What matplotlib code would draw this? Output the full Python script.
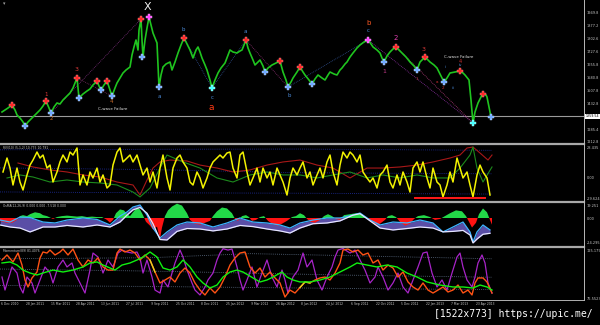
"""Gold daily chart with Elliott-wave marks and three indicator panes (MT4 style)."""

import matplotlib

matplotlib.use("Agg")
import matplotlib.pyplot as plt  # noqa: E402
from matplotlib.lines import Line2D  # noqa: E402

# ---- price pane -------------------------------------------------------------
price_bar = [2, 5, 8, 12, 15, 17, 20, 23, 25, 28, 31, 33, 36, 40, 43, 46, 49, 51, 54, 57,
             60, 63, 66, 70, 73, 77, 79, 83, 87, 90, 93, 97, 99, 101, 104, 107, 110, 112, 115,
             117, 120, 123, 126, 130, 132, 134, 136, 138, 139, 141, 142, 143, 145, 147, 149,
             151, 153, 155, 157, 158, 159, 161, 163, 166, 170, 172, 175, 178, 181, 184, 187,
             190, 193, 196, 198, 200, 202, 205, 207, 210, 212, 215, 218, 221, 225, 228, 230,
             233, 237, 240, 242, 246, 248, 250, 253, 255, 258, 260, 263, 265, 268, 272, 276,
             280, 283, 286, 288, 291, 293, 297, 300, 303, 305, 309, 312, 315, 318, 322, 325,
             328, 330, 334, 337, 340, 342, 345, 347, 350, 353, 357, 360, 364, 368, 371, 373,
             377, 380, 382, 384, 387, 390, 393, 396, 399, 402, 406, 410, 414, 417, 420, 423,
             425, 428, 430, 434, 437, 441, 444, 447, 450, 455, 460, 463, 465, 469, 471, 473,
             475, 478, 481, 483, 486, 487, 489, 491]
close = [1383.7, 1395.1, 1406.5, 1423.6, 1395.1, 1366.6, 1349.5, 1326.7, 1303.9, 1326.7,
         1343.8, 1355.2, 1372.3, 1395.1, 1417.9, 1446.4, 1406.5, 1378.0, 1412.2, 1435.0,
         1429.3, 1452.1, 1469.2, 1492.0, 1520.5, 1577.5, 1463.5, 1486.3, 1503.4, 1514.8,
         1537.6, 1560.4, 1531.9, 1509.1, 1537.6, 1560.4, 1509.1, 1474.9, 1520.5, 1549.0,
         1577.5, 1606.0, 1623.1, 1640.2, 1708.6, 1754.3, 1794.2, 1737.2, 1851.2, 1913.9,
         1794.2, 1697.2, 1794.2, 1862.6, 1925.3, 1879.7, 1834.1, 1805.6, 1777.1, 1651.6,
         1526.2, 1594.6, 1640.2, 1657.3, 1668.7, 1623.1, 1668.7, 1720.0, 1765.7, 1805.6,
         1771.4, 1737.2, 1691.5, 1737.2, 1754.3, 1725.7, 1691.5, 1651.6, 1623.1, 1566.1,
         1520.5, 1566.1, 1606.0, 1634.5, 1663.0, 1708.6, 1737.2, 1725.7, 1720.0, 1731.4,
         1737.2, 1794.2, 1748.6, 1720.0, 1680.1, 1651.6, 1668.7, 1680.1, 1645.9, 1611.7,
         1634.5, 1651.6, 1663.0, 1674.4, 1611.7, 1566.1, 1526.2, 1554.7, 1577.5, 1611.7,
         1640.2, 1611.7, 1594.6, 1566.1, 1543.3, 1571.8, 1594.6, 1577.5, 1566.1, 1594.6,
         1611.7, 1600.3, 1594.6, 1623.1, 1634.5, 1657.3, 1668.7, 1697.2, 1720.0, 1748.6,
         1765.7, 1782.8, 1794.2, 1771.4, 1754.3, 1737.2, 1720.0, 1691.5, 1668.7, 1702.9,
         1725.7, 1742.8, 1754.3, 1737.2, 1720.0, 1697.2, 1668.7, 1645.9, 1623.1, 1668.7,
         1685.8, 1697.2, 1680.1, 1668.7, 1651.6, 1634.5, 1588.9, 1554.7, 1577.5, 1606.0,
         1611.7, 1617.4, 1606.0, 1594.6, 1566.1, 1452.1, 1321.0, 1383.7, 1435.0, 1469.2,
         1486.3, 1480.6, 1469.2, 1412.2, 1355.2]
last_price = 1359.54
price_ticks = [1949.8, 1877.2, 1802.6, 1727.6, 1655.8, 1580.8, 1507.8, 1432.8, 1285.4, 1212.8]

# wave pivots: highs (red), lows (blue), tops (magenta), terminal lows (cyan)
high_bar = [12, 46, 77, 97, 107, 141, 184, 246, 280, 300, 396, 425, 460, 483]
high_px = [1423.6, 1446.4, 1577.5, 1560.4, 1560.4, 1913.9, 1805.6, 1794.2, 1674.4, 1640.2,
           1754.3, 1697.2, 1617.4, 1486.3]
low_bar = [25, 51, 79, 101, 112, 142, 159, 265, 288, 312, 384, 417, 444, 491]
low_px = [1303.9, 1378.0, 1463.5, 1509.1, 1474.9, 1697.2, 1526.2, 1611.7, 1526.2, 1543.3,
          1668.7, 1623.1, 1554.7, 1355.2]
top_bar = [149, 368]
top_px = [1925.3, 1794.2]
term_bar = [212, 473]
term_px = [1520.5, 1321.0]

# dotted wave connectors
link_bar = [(51, 141), (77, 112), (184, 212), (212, 246), (246, 288), (288, 368), (368, 473),
            (396, 473)]
link_px = [(1378.0, 1913.9), (1577.5, 1474.9), (1805.6, 1520.5), (1520.5, 1794.2),
           (1794.2, 1526.2), (1526.2, 1794.2), (1794.2, 1321.0), (1754.3, 1321.0)]
link_color = ["#7a2f7a", "#7a2f60", "#2f4f8f", "#2f4f8f", "#8a3070", "#2f4f8f", "#8a2fa0",
              "#b03a78"]

wave_text = ["X", "1", "2", "3", "4", "a", "C-wave Failure", "b", "c", "a", "a", "b", "b",
             "c", "1", "2", "3", "1", "a", "2", "ii", "iii", "4", "iv", "C-wave Failure"]
wave_bar = [147, 46, 51, 77, 111, 159, 113, 183, 212, 211, 245, 289, 369, 368, 384, 396, 424,
            417, 437, 443, 446, 453, 460, 460, 459]
wave_pos = [1982.3, 1480.6, 1343.8, 1628.8, 1440.7, 1469.2, 1400.8, 1851.2, 1463.5, 1406.5,
            1839.8, 1474.9, 1891.1, 1845.5, 1617.4, 1805.6, 1737.2, 1571.8, 1554.7, 1520.5,
            1640.2, 1520.5, 1674.4, 1651.6, 1697.2]
wave_color = ["#f0f0f0", "#e03a3a", "#c86a2a", "#e03a3a", "#c86a2a", "#4a8ad8", "#e8e8e8",
              "#4a8ad8", "#4a8ad8", "#ff3a14", "#4a8ad8", "#4a8ad8", "#ff5a24", "#4a8ad8",
              "#c03a8a", "#e040b0", "#e03a3a", "#b83a3a", "#d03030", "#d03030", "#4a8ad8",
              "#4a8ad8", "#d03030", "#4a8ad8", "#e8e8e8"]
wave_size = [8, 4, 4, 4.5, 4, 4, 2.9, 4, 4, 6.5, 4, 4, 5, 4, 4.5, 5, 4.5, 3, 3, 3, 2.8, 2.8,
             3.5, 2.8, 2.9]

# ---- RVI pane ---------------------------------------------------------------
rvi_bar = [3, 7, 10, 13, 17, 20, 23, 27, 30, 33, 37, 40, 43, 47, 50, 53, 57, 60, 63, 67, 70,
           73, 77, 80, 83, 87, 90, 93, 97, 100, 103, 107, 110, 113, 117, 120, 123, 127, 130,
           133, 137, 140, 143, 147, 150, 153, 157, 160, 163, 167, 170, 173, 177, 180, 183, 187,
           190, 193, 197, 200, 203, 207, 210, 213, 217, 220, 223, 227, 230, 233, 237, 240, 243,
           247, 250, 253, 257, 260, 263, 267, 270, 273, 277, 280, 283, 287, 290, 293, 297, 300,
           303, 307, 310, 313, 317, 320, 323, 327, 330, 333, 337, 340, 343, 347, 350, 353, 357,
           360, 363, 367, 370, 373, 377, 380, 383, 387, 390, 393, 397, 400, 403, 407, 410, 413,
           417, 420, 423, 427, 430, 433, 437, 440, 443, 447, 450, 453, 457, 460, 463, 467, 470,
           473, 477, 480, 483, 487, 490]
rvi = [4.7, 17.8, 8.4, -7.5, 8.4, -4.7, -12.2, 1.9, 11.2, 15.9, 23.4, 17.8, 20.6, 8.4, 11.2,
       -4.7, 4.7, 14.1, 20.6, 14.1, 23.4, 20.6, 27.2, -7.5, 1.9, -7.5, 4.7, -0.9, 8.4, -4.7,
       1.9, -10.3, -7.5, 11.2, 23.4, 27.2, 14.1, 17.8, 20.6, 14.1, 20.6, 11.2, 1.9, 8.4, -4.7,
       4.7, -10.3, 8.4, 20.6, -0.9, -12.2, 8.4, 17.8, 20.6, 14.1, 8.4, -4.7, -7.5, 4.7, -0.9,
       -10.3, -0.9, 8.4, 14.1, 17.8, 20.6, 17.8, 22.5, 23.4, 8.4, -0.9, 20.6, 23.4, 4.7, -7.5,
       -0.9, 8.4, -4.7, 8.4, -0.9, 4.7, -7.5, 8.4, 1.9, -4.7, -16.9, -0.9, 8.4, 1.9, 8.4, 14.1,
       -0.9, 4.7, -7.5, 1.9, 8.4, -0.9, 14.1, 20.6, 4.7, -7.5, 11.2, 23.4, 17.8, 23.4, 20.6,
       14.1, 20.6, 4.7, -0.9, -4.7, -0.9, -10.3, 1.9, 4.7, 11.2, -4.7, -10.3, 1.9, -7.5, 4.7,
       -4.7, -14.1, 8.4, 14.1, 4.7, 14.1, -0.9, -10.3, 8.4, -4.7, -7.5, -18.7, -7.5, 4.7,
       -4.7, 17.8, 8.4, -0.9, 4.7, -7.5, -18.7, 1.9, 11.2, 4.7, -0.9, -16.9]
sig_bar = [18, 33, 50, 67, 83, 100, 117, 133, 140, 147, 153, 160, 170, 187, 200, 217, 233,
           250, 267, 283, 300, 317, 333, 350, 367, 383, 400, 417, 433, 450, 460, 467, 473, 480,
           488, 492]
sig_red = [13.1, 9.4, 6.6, 4.7, 1.9, 0.0, -4.7, -7.5, -16.9, -2.8, 8.4, 14.1, 15.9, 15.0,
           11.2, 8.4, 4.7, 6.6, 11.2, 14.1, 15.9, 11.2, 8.4, -0.9, 8.4, 8.4, 9.4, 11.2, 14.1,
           17.8, 20.6, 27.2, 28.1, 22.5, 15.9, 20.6]
grn_bar = [7, 20, 33, 50, 67, 83, 100, 117, 133, 140, 150, 160, 167, 183, 200, 217, 233, 250,
           267, 283, 300, 317, 333, 350, 367, 383, 400, 417, 433, 450, 460, 470, 473, 477, 483,
           492]
sig_grn = [-0.9, 1.9, 0.0, -4.7, -2.8, -4.7, -5.6, -7.5, -14.1, -18.7, -10.3, 8.4, 20.6, 14.1,
           8.4, -0.9, -4.7, 1.9, 4.7, 1.9, 1.9, -0.9, 1.9, 4.7, -0.9, 1.9, -0.9, 1.9, -0.9,
           -0.9, 8.4, 20.6, 28.1, 8.4, -4.7, 9.4]
band_bar = [0, 150, 300, 492]
band_top = [25.5, 26.0, 26.2, 25.0]
band_mid = [8.5, 7.0, 4.0, 3.0]
band_low = [-14.0, -14.8, -15.2, -16.0]
floor_bar = [415, 485]
floor_val = [-19.7, -19.7]

# ---- OsMA pane --------------------------------------------------------------
osma_bar = [0, 3, 7, 12, 17, 20, 23, 27, 30, 35, 40, 43, 47, 50, 53, 57, 62, 67, 72, 77, 82,
            87, 92, 97, 102, 107, 110, 113, 116, 120, 124, 127, 130, 133, 137, 140, 143, 146,
            150, 153, 157, 160, 162, 165, 168, 172, 177, 182, 187, 190, 195, 200, 205, 210,
            213, 217, 222, 227, 232, 235, 238, 242, 246, 249, 252, 256, 260, 264, 268, 272,
            277, 282, 287, 292, 296, 300, 304, 307, 311, 315, 320, 324, 328, 332, 336, 340,
            344, 350, 356, 362, 366, 370, 375, 380, 385, 388, 392, 396, 400, 405, 410, 414,
            418, 424, 430, 435, 440, 445, 450, 456, 462, 466, 469, 472, 476, 479, 483, 487,
            490, 492]
osma = [-3, -4, -5, -5, -2, 2, 3, 2, 4, 6, 5, 3, 2, 0.5, -1, 1, 2, 2.5, 2, 1.5, 2, 1, 1.5, 1,
        1, -2, -5, -2, 5, 9, 8, 4, 2, 6, 11, 9, 3, -4, -8, -12, -9, -22, -10, 2, 8, 12, 15, 13,
        5, -2, -6, -7, -5, -3, 2, 7, 11, 10, 5, -1, -3, 2, 3, 1, -3, -2, 1, 2, -3, -6, -8, -6,
        -3, 1, 2, 5, 3, -1, -4, -5, -2, 2, 4, 2, -1, -2, 3, 4, 5, 4, 1, -3, -7, -6, -2, 2, 3, 1,
        -4, -8, -6, -1, 2, 3, 1, -2, -1, 2, 5, 8, 7, 2, -4, -10, -5, 4, 10, 6, -2, -7]
macd_bar = [0, 10, 20, 30, 43, 55, 67, 83, 97, 110, 120, 127, 133, 140, 147, 153, 160, 167,
            177, 187, 200, 213, 227, 240, 253, 267, 280, 290, 300, 313, 327, 340, 353, 360, 370,
            380, 393, 407, 420, 433, 443, 453, 463, 470, 473, 477, 483, 490]
macd_fast = [-2.1, -4.2, 1.0, 0.5, -4.2, -5.2, -2.1, 0.0, -1.5, -7.3, 2.0, 6.3, 11.5, 13.6,
             3.1, -10.5, -20.9, -14.6, -7.3, -4.2, -5.2, -9.4, -5.2, 0.0, -4.2, -5.2, -7.3,
             -10.5, -5.2, -2.1, 0.0, 0.0, 3.1, 5.2, -2.1, -7.3, -4.2, -5.2, -2.1, -5.2, -14.6,
             -9.4, -4.2, -14.6, -25.1, -14.6, -7.3, -12.5]
macd_slow = [-7.3, -9.4, -10.5, -14.6, -9.4, -9.4, -7.8, -9.4, -7.3, -9.4, -4.2, 3.0, 8.5,
             11.0, 5.0, -6.0, -22.5, -23.0, -14.0, -11.0, -11.5, -13.5, -11.5, -7.8, -9.0,
             -11.5, -13.5, -15.7, -10.5, -6.0, -5.2, -3.0, 3.0, 4.5, -3.0, -10.5, -12.5, -11.0,
             -9.4, -10.5, -14.5, -14.0, -13.0, -17.8, -26.1, -22.0, -17.0, -16.0]

# ---- Momentum pane ----------------------------------------------------------
mom_bar = [2, 5, 8, 12, 17, 20, 23, 27, 32, 35, 40, 45, 50, 53, 58, 63, 67, 72, 75, 80, 85,
           90, 93, 98, 103, 108, 113, 118, 122, 127, 132, 137, 140, 143, 147, 152, 155, 160,
           163, 168, 172, 175, 180, 183, 187, 192, 195, 200, 205, 208, 213, 217, 220, 223, 228,
           232, 237, 240, 243, 247, 252, 257, 262, 267, 272, 277, 282, 285, 288, 293, 298, 303,
           307, 312, 317, 322, 327, 332, 335, 338, 343, 350, 355, 360, 365, 370, 375, 378, 383,
           388, 393, 398, 403, 408, 413, 418, 423, 427, 432, 437, 442, 447, 452, 457, 460, 463,
           467, 472, 475, 478, 482, 485, 488, 492]
momentum = [98.2, 85.5, 95.3, 108.0, 102.1, 88.5, 82.6, 98.2, 92.4, 82.6, 95.3, 108.0, 102.1,
            92.4, 108.0, 114.8, 108.0, 111.9, 102.1, 92.4, 82.6, 105.0, 121.6, 117.7, 102.1,
            114.8, 108.0, 121.6, 124.5, 122.6, 121.6, 122.6, 116.8, 102.1, 114.8, 98.2, 85.5,
            82.6, 95.3, 88.5, 102.1, 111.9, 124.5, 117.7, 105.0, 92.4, 85.5, 80.7, 88.5, 95.3,
            102.1, 114.8, 121.6, 125.8, 124.5, 125.5, 108.0, 95.3, 85.5, 95.3, 108.0, 88.5,
            102.1, 114.8, 98.2, 88.5, 105.0, 95.3, 82.6, 98.2, 105.0, 121.6, 108.0, 114.8,
            95.3, 85.5, 98.2, 108.0, 117.7, 124.5, 126.0, 121.6, 124.5, 114.8, 105.0, 92.4,
            98.2, 108.0, 98.2, 85.5, 92.4, 102.1, 88.5, 82.6, 95.3, 108.0, 121.6, 122.6, 102.1,
            88.5, 95.3, 85.5, 102.1, 117.7, 121.6, 108.0, 95.3, 88.5, 98.2, 111.9, 119.7, 111.9,
            92.4, 82.6]
fast_bar = [2, 7, 13, 18, 22, 25, 28, 32, 37, 40, 43, 47, 50, 55, 60, 63, 68, 73, 78, 83, 88,
            93, 98, 103, 108, 113, 117, 120, 125, 130, 135, 140, 145, 150, 155, 160, 165, 170,
            175, 180, 185, 190, 195, 200, 205, 210, 215, 220, 225, 230, 235, 240, 245, 250, 255,
            260, 265, 270, 275, 280, 285, 290, 295, 300, 305, 310, 315, 320, 325, 330, 335, 340,
            343, 348, 353, 358, 363, 368, 373, 378, 383, 388, 393, 398, 403, 408, 413, 418, 423,
            428, 433, 438, 443, 448, 453, 458, 463, 468, 472, 475, 478, 483, 487, 492]
fast_mom = [114.8, 119.7, 112.9, 121.6, 109.9, 95.3, 88.5, 97.3, 103.1, 116.8, 122.6, 121.6,
            124.5, 119.7, 122.6, 125.5, 119.7, 125.5, 114.8, 108.0, 114.8, 111.9, 116.8, 108.0,
            105.0, 105.0, 121.6, 125.5, 122.6, 124.5, 121.6, 114.8, 119.7, 114.8, 103.1, 92.4,
            95.3, 98.2, 93.4, 102.1, 107.0, 102.1, 92.4, 85.5, 80.7, 87.5, 82.6, 88.5, 98.2,
            109.9, 116.8, 121.6, 122.6, 108.0, 102.1, 107.0, 98.2, 103.1, 97.3, 92.4, 78.7, 85.5,
            82.6, 88.0, 93.4, 92.4, 95.3, 97.3, 98.2, 95.3, 102.1, 111.9, 124.5, 125.5, 122.6,
            124.5, 119.7, 121.6, 111.9, 114.8, 105.0, 109.9, 107.0, 98.2, 103.1, 93.4, 88.5,
            85.5, 92.4, 85.5, 82.6, 85.5, 88.5, 83.6, 85.5, 90.4, 82.6, 85.5, 80.7, 92.4, 97.3,
            97.3, 93.4, 82.6]
slow_bar = [2, 10, 17, 23, 30, 37, 43, 53, 63, 73, 83, 90, 97, 103, 110, 115, 122, 130, 137,
            143, 150, 157, 163, 170, 177, 183, 190, 197, 203, 210, 217, 223, 230, 237, 243, 253,
            260, 267, 273, 282, 287, 293, 300, 310, 320, 330, 340, 350, 357, 367, 377, 387, 397,
            407, 417, 427, 440, 453, 463, 473, 480, 487, 492]
slow_mom = [111.9, 112.9, 109.9, 105.0, 102.1, 100.2, 102.1, 105.0, 103.1, 105.0, 108.0,
            111.9, 112.9, 109.9, 107.0, 105.0, 109.9, 111.9, 114.8, 117.7, 122.6, 117.7, 107.0,
            105.0, 108.0, 114.8, 108.0, 98.2, 92.4, 87.5, 90.4, 98.2, 103.1, 105.0, 103.1, 97.3,
            93.4, 95.3, 98.2, 103.1, 98.2, 95.3, 93.4, 93.4, 95.3, 98.2, 103.1, 108.0, 111.9,
            109.9, 108.0, 109.9, 108.0, 102.1, 98.2, 93.4, 90.4, 88.5, 88.5, 87.5, 90.4, 88.5,
            85.5]
lvl_bar = [0, 150, 250, 350, 492]
lvl_top = [116.0, 117.0, 121.0, 119.0, 116.0]
lvl_mid = [106.0, 104.0, 102.0, 100.0, 98.0]
lvl_low = [90.0, 89.0, 88.0, 87.0, 86.0]

date_labels = ["6 Dec 2010", "28 Jan 2011", "15 Mar 2011", "28 Apr 2011", "13 Jun 2011",
               "27 Jul 2011", "9 Sep 2011", "25 Oct 2011", "8 Dec 2011", "25 Jan 2012",
               "9 Mar 2012", "26 Apr 2012", "8 Jun 2012", "24 Jul 2012", "6 Sep 2012",
               "22 Oct 2012", "5 Dec 2012", "22 Jan 2013", "7 Mar 2013", "23 Apr 2013"]
date_bars = list(range(1, 500, 25))

W, H = 600, 325
AX_RIGHT = 584
LABEL_COLOR = "#c8c8c8"
SCALE_FS = 2.5


def pane(fig, top, bottom):
    ax = fig.add_axes([0, 1 - bottom / H, AX_RIGHT / W, (bottom - top) / H])
    ax.set_facecolor("black")
    for s in ax.spines.values():
        s.set_visible(False)
    ax.set_xlim(0, AX_RIGHT)
    ax.set_xticks([])
    ax.yaxis.tick_right()
    ax.tick_params(axis="y", length=0, labelsize=SCALE_FS, labelcolor=LABEL_COLOR, pad=1.8)
    return ax


def hline(fig, ypx, color, lw):
    fig.add_artist(Line2D([0, AX_RIGHT / W], [1 - ypx / H] * 2, color=color, lw=lw))


def main() -> None:
    plt.rcParams["font.family"] = ["DejaVu Sans"]
    fig = plt.figure(figsize=(W / 100, H / 100), dpi=100, facecolor="black")

    # price pane
    ax = pane(fig, 0, 143)
    ax.set_ylim(1206.9, 2022.2)
    ax.set_yticks(price_ticks)
    ax.set_yticklabels([f"{v:.1f}" for v in price_ticks])
    ax.axhline(last_price, color="#9a9a9a", lw=0.8)
    for (b0, b1), (p0, p1), c in zip(link_bar, link_px, link_color):
        ax.plot([b0, b1], [p0, p1], color=c, lw=0.6, ls=(0, (1, 1.2)))
    ax.plot(price_bar, close, color="#1fc41f", lw=1.2)
    mk = dict(marker="P", ms=4.2, mew=0.3, ls="none")
    ax.plot(high_bar, high_px, color="#ff2222", mec="#ff9090", **mk)
    ax.plot(low_bar, low_px, color="#6ea8ff", mec="#c0d8ff", **mk)
    ax.plot(top_bar, top_px, color="#ff40ff", mec="#ffb0ff", **mk)
    ax.plot(term_bar, term_px, color="#40ffff", mec="#c0ffff", **mk)
    for t, b, p, c, s in zip(wave_text, wave_bar, wave_pos, wave_color, wave_size):
        ax.text(b, p, t, color=c, fontsize=s, ha="center", va="center")
    ax.text(3, 2000, "\u25be", color="#a0a0a0", fontsize=3.5, va="center")
    ax.text(AX_RIGHT + 2.0, last_price, f"{last_price:.2f}", color="black", fontsize=2.3,
            va="center", ha="left",
            bbox=dict(boxstyle="square,pad=0.2", fc="white", ec="none"))

    # RVI pane
    ax2 = pane(fig, 145, 201)
    ax2.set_ylim(-22.5, 30)
    ax2.set_yticks([28.1, 0.0, -20.6])
    ax2.set_yticklabels(["28.435", "0.00", "-29.624"])
    for band in (band_top, band_mid, band_low):
        ax2.plot(band_bar, band, color="#2030a8", lw=0.6, ls=(0, (1, 1.5)))
    ax2.plot(sig_bar, sig_red, color="#a81818", lw=0.8)
    ax2.plot(grn_bar, sig_grn, color="#1c8a1c", lw=0.8)
    ax2.plot(rvi_bar, rvi, color="#f2f200", lw=1.1)
    ax2.plot(floor_bar, floor_val, color="#ff1a1a", lw=1.4)
    ax2.text(3, 26.8, "RVI(10) (5,1,2) 10.775 10.791", color=LABEL_COLOR, fontsize=2.2,
             va="center")

    # OsMA pane
    ax3 = pane(fig, 203, 246)
    ax3.set_ylim(-29.3, 15.7)
    ax3.set_yticks([13.6, 0.0, -26.1])
    ax3.set_yticklabels(["19.251", "0.00", "-24.295"])
    ax3.fill_between(macd_bar, macd_fast, macd_slow, color="#5a4ea6", lw=0)
    ax3.fill_between(osma_bar, 0, osma, where=[v >= 0 for v in osma], interpolate=True,
                     color="#22d848", lw=0)
    ax3.fill_between(osma_bar, 0, osma, where=[v <= 0 for v in osma], interpolate=True,
                     color="#ff1212", lw=0)
    ax3.plot(macd_bar, macd_fast, color="#3cb4ff", lw=0.9)
    ax3.plot(macd_bar, macd_slow, color="#e6e6ff", lw=0.9)
    ax3.text(3, 12.5, "OsMA(12,26,9) 0.000 0.000 -7.518 0.000", color=LABEL_COLOR,
             fontsize=2.2, va="center")

    # Momentum pane
    ax4 = pane(fig, 248, 300)
    ax4.set_ylim(75.8, 126.5)
    ax4.set_yticks([124.5, 77.75])
    ax4.set_yticklabels(["125.179", "76.5523"])
    for lvl in (lvl_top, lvl_mid, lvl_low):
        ax4.plot(lvl_bar, lvl, color="#5f7088", lw=0.6, ls=(0, (1, 1.5)))
    ax4.plot(mom_bar, momentum, color="#a824c8", lw=0.9)
    ax4.plot(fast_bar, fast_mom, color="#ff5214", lw=1.0)
    ax4.plot(fast_bar[33:35], fast_mom[33:35], color="#e8d020", lw=1.0)
    ax4.plot(fast_bar[63:66], fast_mom[63:66], color="#e8d020", lw=1.0)
    ax4.plot(slow_bar, slow_mom, color="#10f010", lw=1.0)
    ax4.text(3, 123.5, "Momentum(89) 81.4076", color=LABEL_COLOR, fontsize=2.2, va="center")
    ax4.set_xticks(date_bars)
    ax4.set_xticklabels(date_labels, ha="left")
    ax4.tick_params(axis="x", length=0, labelsize=2.2, labelcolor=LABEL_COLOR, pad=1.4)

    # frame: pane separators, right scale line, bottom line
    for ypx in (143.5, 202.0, 246.8):
        hline(fig, ypx, "#a8a8a8", 1.6)
    hline(fig, 300.3, "#b0b0b0", 0.7)
    fig.add_artist(Line2D([AX_RIGHT / W] * 2, [1 - 300.3 / H, 1], color="#b8b8b8", lw=0.7))

    fig.text(593 / W, 1 - 314 / H, "[1522x773] https://upic.me/", color="white",
             fontsize=7.0, family="DejaVu Sans Mono", ha="right", va="center")

    fig.savefig("out.png", dpi=100, facecolor="black")
    plt.close(fig)


if __name__ == "__main__":
    main()
